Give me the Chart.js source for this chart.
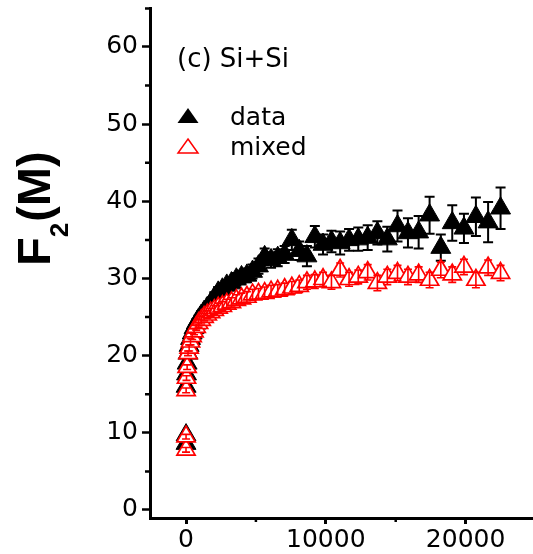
<!DOCTYPE html>
<html lang="en">
<head>
    <meta charset="UTF-8">
    <title>F2(M) Si+Si</title>
    <script src="https://cdn.jsdelivr.net/npm/chart.js"></script>
    <style>
        body { margin: 0; background: #fff; }
        canvas { display: block; }
    </style>
</head>
<body>
    <canvas id="f2Chart" width="533" height="554"></canvas>

    <script>
        // x positions (M^2) shared by both series
        const mValues = [1, 4, 9, 36, 81, 144, 225, 324, 441, 576, 729, 900, 1089, 1296, 1521, 1764,
            2025, 2304, 2601, 2916, 3249, 3600, 3969, 4356, 4761, 5184, 5625, 6084, 6561, 7056, 7569,
            8100, 8649, 9216, 9801, 10404, 11025, 11664, 12321, 12996, 13689, 14400, 15129, 15876,
            16641, 17424, 18225, 19044, 19881, 20736, 21609, 22500];

        // "data" series (filled black triangles)
        const dataValues = [8.6, 9.7, 16.0, 17.6, 19.0, 20.3, 21.3, 22.2, 22.9, 23.6, 24.2, 24.7, 25.2, 25.7,
            26.2, 26.8, 27.5, 28.2, 28.6, 29.1, 29.4, 29.9, 30.2, 30.4, 30.9, 31.6, 32.8, 32.4, 32.7,
            33.1, 35.0, 33.6, 32.9, 35.4, 34.4, 34.8, 34.6, 35.0, 35.1, 35.3, 35.9, 35.1, 36.8, 35.9,
            36.0, 38.2, 34.0, 37.2, 36.5, 38.0, 37.3, 39.1];
        const dataErrors = [0.4, 0.4, 0.4, 0.4, 0.4, 0.4, 0.5, 0.5, 0.5, 0.5, 0.5, 0.5, 0.6, 0.6,
            0.6, 0.6, 0.7, 0.7, 0.7, 0.7, 0.8, 0.8, 0.8, 0.9, 0.9, 1.0, 1.1, 1.0, 1.1,
            1.1, 1.3, 1.2, 1.3, 1.4, 1.3, 1.4, 1.5, 1.4, 1.5, 1.6, 1.5, 1.6, 2.0, 1.9,
            2.1, 2.4, 1.7, 2.3, 1.9, 2.5, 2.6, 2.7];

        // "mixed" series (open red triangles)
        const mixedValues = [7.8, 9.5, 15.5, 17.1, 18.5, 20.3, 21.0, 21.8, 22.5, 23.1, 23.7, 24.2, 24.6, 25.0,
            25.3, 25.6, 25.9, 26.2, 26.4, 26.7, 26.9, 27.2, 27.4, 27.6, 27.9, 28.0, 28.1, 28.3, 28.4,
            28.6, 28.8, 29.0, 29.5, 29.6, 29.9, 29.5, 31.1, 29.9, 30.2, 30.8, 29.4, 30.2, 30.7, 30.2,
            30.5, 29.8, 31.1, 30.5, 31.5, 29.8, 31.4, 30.7];
        const mixedErrors = [0.3, 0.3, 0.3, 0.3, 0.3, 0.3, 0.4, 0.4, 0.4, 0.4, 0.4, 0.5, 0.5, 0.5,
            0.5, 0.5, 0.6, 0.6, 0.6, 0.6, 0.6, 0.7, 0.7, 0.7, 0.7, 0.7, 0.8, 0.8, 0.8,
            0.8, 0.8, 0.8, 0.9, 0.9, 0.9, 0.9, 0.9, 0.9, 0.9, 1.0, 1.0, 1.0, 1.0, 1.0,
            1.0, 1.0, 1.0, 1.0, 1.0, 1.0, 1.0, 1.0];

        // axis ticks
        const xTickValues = [0, 10000, 20000];
        const xMinorTicks = [5000, 15000];
        const yTickValues = [0, 10, 20, 30, 40, 50, 60];
        const yMinorTicks = [5, 15, 25, 35, 45, 55, 65];

        const tickFont = { family: 'DejaVu Sans', size: 25 };

        function toPoints(xs, ys, errs) {
            return xs.map((x, i) => ({ x: x, y: ys[i], err: errs[i] }));
        }

        // error bars, minor ticks, y title, annotation and legend
        const overlay = {
            id: 'overlay',
            drawErrors(chart, index) {
                const ds = chart.data.datasets[index];
                const meta = chart.getDatasetMeta(index);
                const yScale = chart.scales.y;
                const ctx = chart.ctx;
                ctx.save();
                ctx.strokeStyle = ds.borderColor;
                ctx.lineWidth = ds.errWidth;
                const cap = ds.capHalf;
                meta.data.forEach((el, i) => {
                    const p = ds.data[i];
                    const x = el.x;
                    const top = yScale.getPixelForValue(p.y + p.err);
                    const bot = yScale.getPixelForValue(p.y - p.err);
                    ctx.beginPath();
                    ctx.moveTo(x, top); ctx.lineTo(x, bot);
                    ctx.moveTo(x - cap, top); ctx.lineTo(x + cap, top);
                    ctx.moveTo(x - cap, bot); ctx.lineTo(x + cap, bot);
                    ctx.stroke();
                });
                ctx.restore();
            },
            beforeDatasetDraw(chart, args) {
                if (!chart.data.datasets[args.index].errOnTop) this.drawErrors(chart, args.index);
            },
            afterDatasetDraw(chart, args) {
                if (chart.data.datasets[args.index].errOnTop) this.drawErrors(chart, args.index);
            },
            afterDraw(chart) {
                const ctx = chart.ctx;
                const xs = chart.scales.x, ys = chart.scales.y;
                const area = chart.chartArea;
                ctx.save();
                ctx.strokeStyle = '#000';
                ctx.lineWidth = 2.5;
                ctx.beginPath();
                yMinorTicks.forEach(v => {
                    const py = ys.getPixelForValue(v);
                    ctx.moveTo(area.left, py); ctx.lineTo(area.left - 5, py);
                });
                xMinorTicks.forEach(v => {
                    const px = xs.getPixelForValue(v);
                    ctx.moveTo(px, area.bottom); ctx.lineTo(px, area.bottom + 4);
                });
                ctx.stroke();

                // y axis title F2(M) with subscript
                ctx.save();
                ctx.translate(50, 266);
                ctx.rotate(-Math.PI / 2);
                ctx.fillStyle = '#000';
                ctx.textBaseline = 'alphabetic';
                ctx.textAlign = 'left';
                ctx.font = 'bold 47px "Liberation Sans", Arial, sans-serif';
                ctx.fillText('F', 0, 0);
                let off = ctx.measureText('F').width;
                ctx.font = 'bold 26px "Liberation Sans", Arial, sans-serif';
                ctx.fillText('2', off, 18);
                off += ctx.measureText('2').width + 1;
                ctx.font = 'bold 47px "Liberation Sans", Arial, sans-serif';
                ctx.fillText('(M)', off, 0);
                ctx.restore();

                // panel label
                ctx.fillStyle = '#000';
                ctx.font = '26px "DejaVu Sans"';
                ctx.textAlign = 'left';
                ctx.textBaseline = 'alphabetic';
                ctx.fillText('(c) Si+Si', 177, 67);

                // legend
                ctx.beginPath();
                ctx.moveTo(188, 108); ctx.lineTo(198.5, 123); ctx.lineTo(177.5, 123); ctx.closePath();
                ctx.fillStyle = '#000';
                ctx.fill();
                ctx.beginPath();
                ctx.moveTo(188, 139); ctx.lineTo(198, 153); ctx.lineTo(178, 153); ctx.closePath();
                ctx.strokeStyle = '#ff0000';
                ctx.lineWidth = 1.5;
                ctx.stroke();
                ctx.fillStyle = '#000';
                ctx.font = '25px "DejaVu Sans"';
                ctx.fillText('data', 230, 125);
                ctx.fillText('mixed', 230, 155);
                ctx.restore();
            }
        };

        const ctx = document.getElementById('f2Chart').getContext('2d');
        const chart = new Chart(ctx, {
            type: 'scatter',
            data: {
                datasets: [
                    {
                        label: 'mixed',
                        data: toPoints(mValues, mixedValues, mixedErrors),
                        pointStyle: 'triangle',
                        pointRadius: 10.5,
                        backgroundColor: '#ffffff',
                        borderColor: '#ff0000',
                        borderWidth: 1.7,
                        errWidth: 1.6,
                        capHalf: 4,
                        errOnTop: true,
                        order: 0
                    },
                    {
                        label: 'data',
                        data: toPoints(mValues, dataValues, dataErrors),
                        pointStyle: 'triangle',
                        pointRadius: 11.5,
                        backgroundColor: '#000000',
                        borderColor: '#000000',
                        borderWidth: 1,
                        errWidth: 2,
                        capHalf: 5,
                        errOnTop: false,
                        order: 1
                    }
                ]
            },
            options: {
                responsive: false,
                animation: false,
                layout: { autoPadding: false, padding: { top: 8, left: 0, right: 0, bottom: 0 } },
                plugins: {
                    legend: { display: false },
                    tooltip: { enabled: false }
                },
                scales: {
                    x: {
                        type: 'linear',
                        min: -2575,
                        max: 24820,
                        afterBuildTicks: s => { s.ticks = xTickValues.map(v => ({ value: v })); },
                        afterFit: s => { s.height = 36; s.paddingLeft = 0; s.paddingRight = 0; },
                        border: { display: true, color: '#000', width: 3 },
                        grid: { drawOnChartArea: false, drawTicks: true, tickLength: 6, tickWidth: 3, tickColor: '#000' },
                        ticks: { font: tickFont, color: '#000', padding: 1, maxRotation: 0, callback: v => String(v) }
                    },
                    y: {
                        type: 'linear',
                        min: -1.04,
                        max: 65.05,
                        afterBuildTicks: s => { s.ticks = yTickValues.map(v => ({ value: v })); },
                        afterFit: s => { s.width = 150; s.paddingTop = 0; s.paddingBottom = 0; },
                        border: { display: true, color: '#000', width: 3 },
                        grid: { drawOnChartArea: false, drawTicks: true, tickLength: 8, tickWidth: 2.5, tickColor: '#000' },
                        ticks: { font: tickFont, color: '#000', padding: 4, callback: v => String(v) }
                    }
                }
            },
            plugins: [overlay]
        });
    </script>
</body>
</html>
